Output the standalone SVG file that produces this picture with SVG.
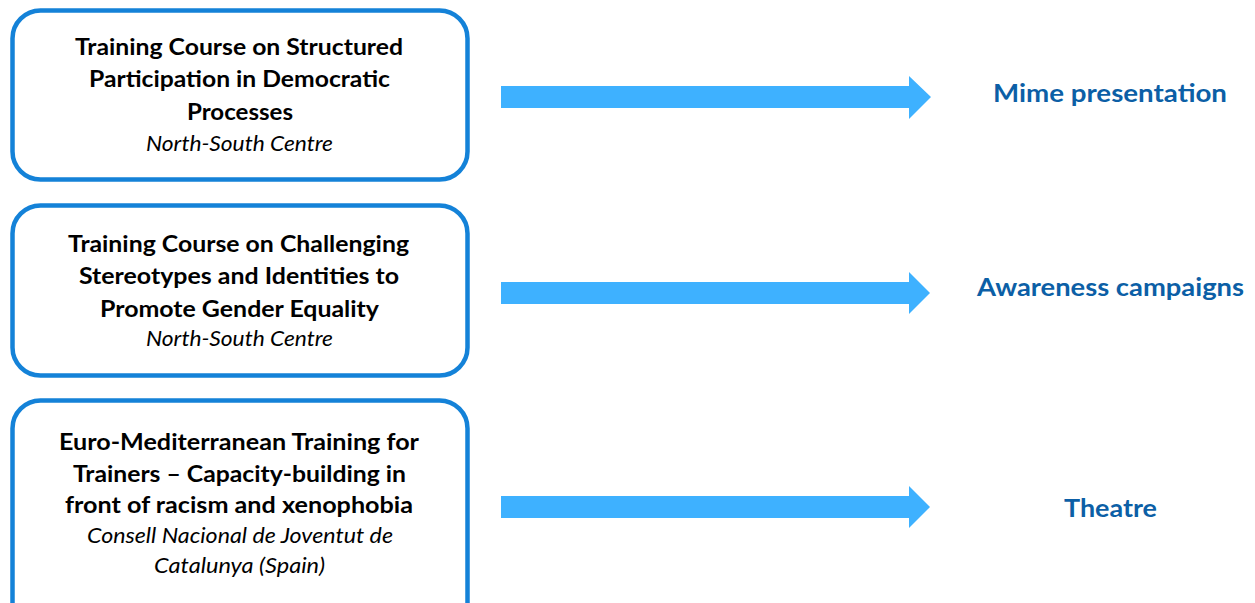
<svg xmlns="http://www.w3.org/2000/svg" width="1255" height="603" viewBox="0 0 1255 603">
<style>
.box{fill:#ffffff;stroke:#1482D8;stroke-width:4.5}
.t{font-family:Lato,"Open Sans","Liberation Sans",sans-serif;font-weight:bold;font-size:22px;fill:#000;text-anchor:middle}
.i{font-family:Lato,"Open Sans","Liberation Sans",sans-serif;font-style:italic;font-size:20.5px;fill:#000;text-anchor:middle}
.lbl{font-family:Lato,"Open Sans","Liberation Sans",sans-serif;font-weight:bold;font-size:25px;fill:#0C5FA6;text-anchor:middle}
.arr{fill:#3EB1FF}
</style>
<rect width="1255" height="603" fill="#ffffff"/>
<g id="node1">
<rect class="box" x="12.5" y="10.5" width="455" height="169" rx="28"/>
<text class="t" x="239" y="55" textLength="328" lengthAdjust="spacingAndGlyphs">Training Course on Structured</text>
<text class="t" x="239.5" y="87" textLength="301" lengthAdjust="spacingAndGlyphs">Participation in Democratic</text>
<text class="t" x="240" y="120" textLength="106" lengthAdjust="spacingAndGlyphs">Processes</text>
<text class="i" x="239.5" y="151" textLength="187" lengthAdjust="spacingAndGlyphs">North-South Centre</text>
</g>
<g id="node2">
<rect class="box" x="12.5" y="205.5" width="455" height="170" rx="28"/>
<text class="t" x="238.5" y="252" textLength="341" lengthAdjust="spacingAndGlyphs">Training Course on Challenging</text>
<text class="t" x="239" y="284" textLength="320" lengthAdjust="spacingAndGlyphs">Stereotypes and Identities to</text>
<text class="t" x="239.5" y="317" textLength="279" lengthAdjust="spacingAndGlyphs">Promote Gender Equality</text>
<text class="i" x="239.5" y="346" textLength="187" lengthAdjust="spacingAndGlyphs">North-South Centre</text>
</g>
<g id="node3">
<rect class="box" x="12.5" y="400.5" width="455" height="230" rx="28"/>
<text class="t" x="239" y="450" textLength="360" lengthAdjust="spacingAndGlyphs">Euro-Mediterranean Training for</text>
<text class="t" x="239.5" y="482" textLength="333" lengthAdjust="spacingAndGlyphs">Trainers – Capacity-building in</text>
<text class="t" x="239" y="513" textLength="348" lengthAdjust="spacingAndGlyphs">front of racism and xenophobia</text>
<text class="i" x="240" y="543" textLength="306" lengthAdjust="spacingAndGlyphs">Consell Nacional de Joventut de</text>
<text class="i" x="239.5" y="573" textLength="171" lengthAdjust="spacingAndGlyphs">Catalunya (Spain)</text>
</g>
<g id="connectors">
<polygon class="arr" points="501,86 909,86 909,76 931,97 909,119 909,108 501,108"/>
<polygon class="arr" points="501,282 909,282 909,272 930,293 909,314 909,304 501,304"/>
<polygon class="arr" points="501,496 909,496 909,486 930,507 909,528 909,518 501,518"/>
</g>
<g id="label1"><text class="lbl" x="1110" y="102" textLength="234" lengthAdjust="spacingAndGlyphs">Mime presentation</text></g>
<g id="label2"><text class="lbl" x="1110.5" y="296" textLength="267" lengthAdjust="spacingAndGlyphs">Awareness campaigns</text></g>
<g id="label3"><text class="lbl" x="1110.5" y="517" textLength="93" lengthAdjust="spacingAndGlyphs">Theatre</text></g>
</svg>
